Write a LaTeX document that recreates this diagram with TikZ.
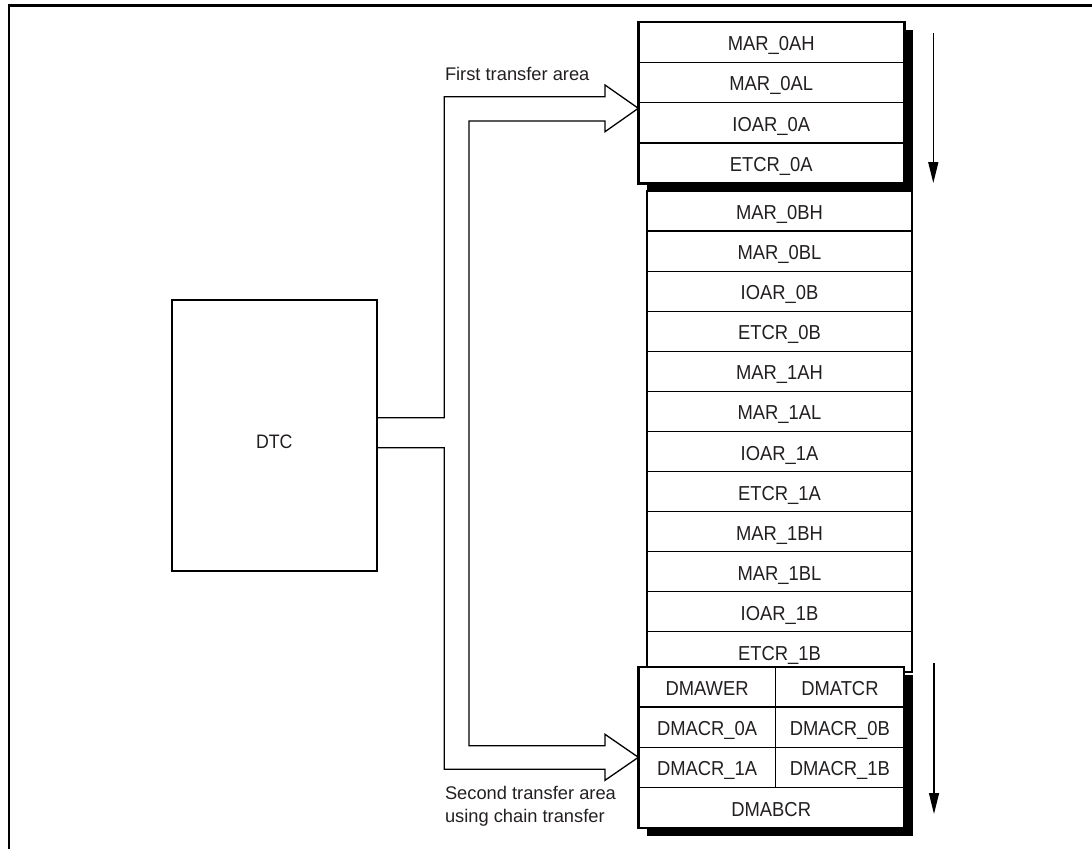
\documentclass[tikz,border=0pt]{standalone}
\usepackage{fontspec}
\setmainfont{Liberation Sans}
\newfontfamily\cellfont[FakeStretch=0.91]{Liberation Sans}
\usetikzlibrary{positioning,arrows.meta,shadows}
\definecolor{ink}{HTML}{231F20}

\begin{document}
\begin{tikzpicture}[
  x=1pt, y=1pt,
  font=\fontsize{18.3}{22.7}\selectfont, text=ink,
  cell/.style={draw=black, line width=1.2pt, minimum width=266pt, minimum height=40.4pt, inner sep=0pt, outer sep=0pt,
    font=\cellfont\fontsize{20.2}{24}\selectfont, text height=17pt, text depth=0pt},
  midcell/.style={cell, minimum width=265pt, minimum height=40.08pt},
  lowcell/.style={cell, minimum height=40.25pt},
  block/.style={draw=black, line width=2.4pt, fill=white, inner sep=0pt, outer sep=0pt},
  shade/.style={drop shadow={shadow xshift=9pt, shadow yshift=-8.5pt, opacity=1, fill=black}},
  box/.style={draw=black, line width=2.2pt, minimum width=205pt, minimum height=271pt, inner sep=0pt},
  hollow/.style={draw=black, line width=1.3pt, line join=miter},
  flow/.style={draw=black, line width=1.3pt, -{Triangle[length=21pt, width=10pt]}},
  plain/.style={inner sep=0pt, outer sep=0pt}
]
\useasboundingbox (0,0) rectangle (1092,-849);
\draw[line width=2.6pt] (8.8,-849) -- (8.8,-5.3) -- (1092,-5.3);

\node[box] (dtc) at (274.3,-435.5) {};
\node[plain, font=\cellfont\fontsize{19.5}{24}\selectfont, text height=14.3pt, text depth=0pt] (dtclbl) at ([yshift=-5.5pt]dtc.center) {DTC};

\node[block, minimum width=265pt, minimum height=481pt] (mid) at (779.5,-431.5) {};
\node[midcell, anchor=north] (m1) at (mid.north) {MAR\_0BH};
\node[midcell, below=0pt of m1] (m2) {MAR\_0BL};
\node[midcell, below=0pt of m2] (m3) {IOAR\_0B};
\node[midcell, below=0pt of m3] (m4) {ETCR\_0B};
\node[midcell, below=0pt of m4] (m5) {MAR\_1AH};
\node[midcell, below=0pt of m5] (m6) {MAR\_1AL};
\node[midcell, below=0pt of m6] (m7) {IOAR\_1A};
\node[midcell, below=0pt of m7] (m8) {ETCR\_1A};
\node[midcell, below=0pt of m8] (m9) {MAR\_1BH};
\node[midcell, below=0pt of m9] (m10) {MAR\_1BL};
\node[midcell, below=0pt of m10] (m11) {IOAR\_1B};
\node[midcell, below=0pt of m11] (m12) {ETCR\_1B};

\node[block, shade, minimum width=265.7pt, minimum height=161pt] (second) at (771.2,-747.2) {};
\node[lowcell, minimum width=137.4pt, anchor=north west] (b1l) at (second.north west) {DMAWER};
\node[lowcell, minimum width=128.3pt, right=0pt of b1l] (b1r) {DMATCR};
\node[lowcell, minimum width=137.4pt, below=0pt of b1l] (b2l) {DMACR\_0A};
\node[lowcell, minimum width=128.3pt, right=0pt of b2l] (b2r) {DMACR\_0B};
\node[lowcell, minimum width=137.4pt, below=0pt of b2l] (b3l) {DMACR\_1A};
\node[lowcell, minimum width=128.3pt, right=0pt of b3l] (b3r) {DMACR\_1B};
\node[lowcell, minimum width=265.7pt, anchor=north west] (b4) at (b3l.south west) {DMABCR};

\node[block, shade, minimum width=266pt, minimum height=161.6pt] (first) at (771.3,-102.5) {};
\node[cell, anchor=north] (t1) at (first.north) {MAR\_0AH};
\node[cell, below=0pt of t1] (t2) {MAR\_0AL};
\node[cell, below=0pt of t2] (t3) {IOAR\_0A};
\node[cell, below=0pt of t3] (t4) {ETCR\_0A};

\coordinate (tipA) at (first.west |- 0,-108.3);
\coordinate (tipB) at (second.west |- 0,-757.3);
\draw[hollow] (dtc.east |- 0,-417.7) -- (444.3,-417.7) -- (444.3,-96.7) -- (605,-96.7) -- (605,-85) -- (tipA)
  -- (605,-131.7) -- (605,-121) -- (469,-121) -- (469,-745.7) -- (605,-745.7) -- (605,-734.3) -- (tipB)
  -- (605,-780.3) -- (605,-769.3) -- (444.3,-769.3) -- (444.3,-447.7) -- (dtc.east |- 0,-447.7);

\node[plain, anchor=base west] (lblfirst) at (445,-80.5) {First transfer area};
\node[plain, anchor=north west, align=left] (lblsecond) at (445,-786.7) {Second transfer area\\using chain transfer};

\coordinate (startA) at (933.3,-33);
\coordinate (endA) at (933.3,-183);
\coordinate (startB) at (934,-663.3);
\coordinate (endB) at (934,-814);
\draw[flow] (startA) -- (endA);
\draw[flow] (startB) -- (endB);
\end{tikzpicture}
\end{document}
